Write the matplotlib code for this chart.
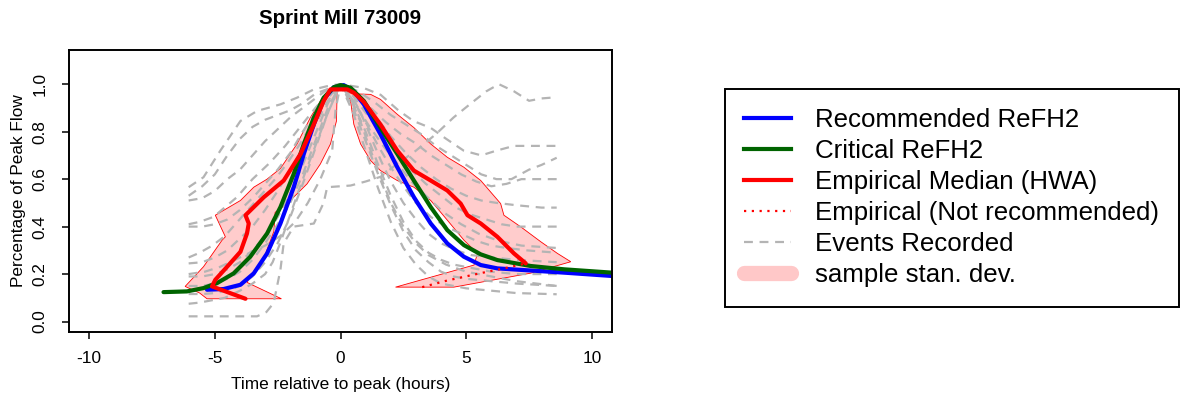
import numpy as np
import matplotlib
matplotlib.use("Agg")
import matplotlib.pyplot as plt
from matplotlib.lines import Line2D

plt.rcParams['font.family'] = ['Liberation Sans', 'DejaVu Sans']

# ---- data (hours from peak, fraction of peak flow) ----
rec_x = [-5.31, -4.65, -3.98, -3.45, -2.92, -2.39, -1.86, -1.46, -1.06, -0.67, -0.27, 0.13,
         0.53, 0.93, 1.59, 2.26, 2.92, 3.59, 4.25, 4.91, 5.58, 6.24, 7.57, 8.9, 10.8]
rec_y = [0.134, 0.137, 0.155, 0.203, 0.287, 0.413, 0.566, 0.706, 0.831, 0.936, 0.987, 0.996,
         0.97, 0.915, 0.789, 0.65, 0.524, 0.413, 0.329, 0.273, 0.238, 0.224, 0.215, 0.206, 0.192]

crit_x = [-7.04, -6.11, -5.45, -4.91, -4.25, -3.59, -2.92, -2.39, -1.86, -1.46, -1.06, -0.67,
          -0.27, 0.0, 0.4, 0.93, 1.59, 2.26, 2.92, 3.59, 4.25, 4.91, 5.58, 6.24, 7.57, 8.9, 10.8]
crit_y = [0.124, 0.127, 0.141, 0.162, 0.203, 0.273, 0.371, 0.482, 0.622, 0.748, 0.859, 0.943,
          0.987, 0.996, 0.985, 0.929, 0.817, 0.706, 0.594, 0.482, 0.385, 0.322, 0.283, 0.259,
          0.234, 0.22, 0.206]

emp_x = [-3.78, -5.11, -4.98, -4.51, -3.98, -3.72, -3.65, -3.78, -3.05, -2.26, -1.59, -1.06,
         -0.67, -0.4, 0.27, 0.53, 0.93, 1.59, 2.26, 2.92, 3.59, 4.25, 4.78, 5.05, 5.58, 6.24,
         6.9, 7.37]
emp_y = [0.096, 0.148, 0.176, 0.231, 0.294, 0.371, 0.413, 0.448, 0.524, 0.594, 0.706, 0.831,
         0.929, 0.978, 0.978, 0.964, 0.925, 0.83, 0.72, 0.636, 0.594, 0.552, 0.497, 0.448,
         0.413, 0.357, 0.287, 0.245]

nrec_x = [3.25, 4.25, 5.58, 6.5, 7.3]
nrec_y = [0.145, 0.173, 0.204, 0.224, 0.243]

# sample standard deviation bands (outline of each shaded area)
band_rise_x = [-6.18, -5.45, -4.71, -4.58, -4.98, -3.98, -3.45, -2.92, -2.39, -1.73, -1.2, -0.8,
               -0.4, -0.13, -0.16, -0.4, -0.8, -1.33, -2.12, -2.6, -2.65, -3.0, -3.5, -3.72,
               -2.35, -5.31, -5.6]
band_rise_y = [0.148, 0.231, 0.343, 0.357, 0.448, 0.51, 0.566, 0.6, 0.645, 0.748, 0.859, 0.929,
               0.971, 0.985, 0.845, 0.748, 0.664, 0.58, 0.497, 0.46, 0.38, 0.28, 0.2, 0.165,
               0.096, 0.096, 0.12]

band_fall_x = [0.2, 0.4, 1.2, 1.59, 2.26, 2.92, 3.59, 4.25, 4.91, 5.58, 6.37, 6.5, 7.17, 7.97,
               8.63, 9.16, 7.57, 4.51, 2.19, 5.31, 5.45, 4.91, 4.25, 3.59, 2.92, 2.26, 1.59,
               1.2, 0.8, 0.53, 0.4]
band_fall_y = [0.985, 0.96, 0.957, 0.936, 0.873, 0.817, 0.748, 0.692, 0.65, 0.594, 0.497, 0.448,
               0.399, 0.336, 0.287, 0.252, 0.204, 0.145, 0.145, 0.238, 0.287, 0.343, 0.427, 0.51,
               0.566, 0.594, 0.636, 0.678, 0.748, 0.831, 0.929]

# recorded events
ev_x = [
    [-6.04, -4.5, -3.32, -2.95, -2.66, -2.39, -2.26, -1.86, -1.06, -0.67, -0.53, 0.4, 1.0, 1.6,
     2.2, 3.0, 3.8, 4.5, 5.2, 5.8, 6.3, 6.9, 7.5, 8.0, 8.6],
    [-6.04, -5.45, -4.78, -3.98, -3.32, -2.39, -1.73, -1.06, -0.4, 0, 0.9, 1.6, 2.3, 2.9, 3.6,
     4.2, 4.9, 5.6, 6.2, 6.9, 7.6, 8.6],
    [-6.04, -5.5, -5.0, -4.5, -4.0, -3.5, -3.0, -2.5, -2.0, -1.5, -1.0, 0, 0.7, 1.4, 2.0, 2.6,
     3.2, 3.8, 4.4, 5.0, 5.6, 6.2, 6.8, 7.5, 8.0, 8.6],
    [-6.04, -5.5, -5, -4.5, -4, -3.5, -3, -2.5, -2, -1.5, -1, -0.5, 0, 0.6, 1.2, 1.8, 2.4, 3.0,
     3.6, 4.2, 4.8, 5.4, 6.0, 6.6, 7.2, 8.0, 8.6],
    [-6.04, -5.6, -5.05, -4.12, -3.5, -2.8, -2.2, -1.6, -1.0, -0.5, 0, 0.5, 1.0, 1.5, 2.0,
     2.6, 3.2, 3.8, 4.4, 5.0, 5.6, 6.2, 7.0, 8.0, 8.6],
    [-6.04, -5.5, -5.0, -4.5, -4.0, -3.5, -3.0, -2.5, -2.0, -1.5, -1.0, -0.5, 0, 0.5, 1.0, 1.6,
     2.2, 2.8, 3.4, 4.0, 4.6, 5.2, 5.8, 6.4, 7.0, 7.8, 8.6],
    [-6.04, -5.6, -5.1, -4.6, -4.1, -3.6, -3.1, -2.6, -2.1, -1.6, -1.1, -0.6, 0, 0.5, 1.0, 1.5,
     2.0, 2.5, 3.0, 3.6, 4.2, 4.8, 5.4, 6.0, 6.6, 7.4, 8.6],
    [-6.04, -5.5, -5.0, -4.5, -4.0, -3.5, -3.0, -2.5, -2.0, -1.5, -1.0, -0.5, 0, 0.4, 0.8, 1.2,
     1.6, 2.0, 2.5, 3.0, 3.5, 4.0, 4.6, 5.2, 6.0, 7.0, 8.6],
    [-6.04, -5.5, -5.0, -4.5, -4.0, -3.5, -3.0, -2.5, -2.0, -1.5, -1.0, -0.5, 0, 0.5, 1.0, 1.5,
     2.0, 2.5, 3.0, 3.5, 4.0, 4.5, 5.0, 6.0, 7.0, 8.6],
    [-6.04, -5.5, -5.0, -4.5, -4.0, -3.5, -3.0, -2.5, -2.0, -1.5, -1.0, -0.5, 0, 0.5, 1.0, 1.5,
     2.0, 2.5, 3.0, 3.5, 4.0, 4.5, 5.0, 6.0, 7.0, 8.6],
    [-6.04, -5.5, -5.0, -4.5, -4.0, -3.5, -3.0, -2.5, -2.0, -1.5, -1.0, -0.5, 0, 0.5, 1.0, 1.5,
     2.0, 2.5, 3.0, 3.5, 4.0, 5.0, 6.0, 7.0, 8.6],
    [-6.04, -5.6, -5.1, -4.6, -4.0, -3.5, -3.0, -2.7, -2.4, -2.0, -1.5, -1.0, -0.5, 0, 0.4, 0.8,
     1.2, 1.6, 2.0, 2.5, 3.0, 3.5, 4.2, 5.0, 6.0, 7.0, 8.6],
    [-6.04, -5.4, -4.8, -4.2, -3.6, -3.0, -2.4, -1.8, -1.3, -0.8, -0.33, -0.2, 0, 0.5, 1.1, 1.7,
     2.3, 2.9, 3.5, 4.1, 4.8, 5.5, 6.3, 7.2, 8.6],
]
ev_y = [
    [0.022, 0.022, 0.022, 0.04, 0.078, 0.218, 0.33, 0.40, 0.413, 0.50, 0.566, 0.573, 0.59,
     0.61, 0.66, 0.72, 0.79, 0.86, 0.92, 0.97, 1.0, 0.97, 0.93, 0.94, 0.945],
    [0.566, 0.608, 0.72, 0.845, 0.887, 0.915, 0.943, 0.978, 0.995, 1.0, 0.985, 0.955, 0.89,
     0.845, 0.815, 0.77, 0.72, 0.70, 0.72, 0.74, 0.74, 0.74],
    [0.53, 0.57, 0.62, 0.70, 0.77, 0.82, 0.85, 0.87, 0.89, 0.92, 0.96, 1.0, 0.97, 0.92, 0.87,
     0.83, 0.79, 0.74, 0.70, 0.66, 0.62, 0.60, 0.60, 0.64, 0.66, 0.69],
    [0.51, 0.52, 0.55, 0.60, 0.64, 0.70, 0.76, 0.81, 0.86, 0.90, 0.94, 0.98, 1.0, 0.96, 0.90,
     0.84, 0.79, 0.75, 0.70, 0.66, 0.62, 0.59, 0.57, 0.58, 0.60, 0.60, 0.60],
    [0.41, 0.42, 0.441, 0.524, 0.60, 0.67, 0.74, 0.82, 0.90, 0.96, 1.0, 0.97, 0.91, 0.85,
     0.78, 0.71, 0.65, 0.60, 0.56, 0.53, 0.51, 0.50, 0.49, 0.48, 0.48],
    [0.40, 0.40, 0.41, 0.43, 0.47, 0.52, 0.58, 0.64, 0.71, 0.80, 0.88, 0.95, 1.0, 0.95, 0.88,
     0.80, 0.72, 0.64, 0.58, 0.53, 0.48, 0.45, 0.43, 0.41, 0.40, 0.40, 0.40],
    [0.27, 0.29, 0.32, 0.36, 0.42, 0.48, 0.54, 0.60, 0.67, 0.75, 0.84, 0.93, 1.0, 0.93, 0.84,
     0.74, 0.65, 0.57, 0.50, 0.44, 0.40, 0.37, 0.34, 0.32, 0.31, 0.30, 0.29],
    [0.245, 0.25, 0.27, 0.30, 0.35, 0.40, 0.47, 0.55, 0.64, 0.73, 0.83, 0.93, 1.0, 0.96, 0.88,
     0.78, 0.68, 0.59, 0.50, 0.43, 0.37, 0.33, 0.30, 0.28, 0.27, 0.26, 0.25],
    [0.19, 0.19, 0.20, 0.22, 0.25, 0.30, 0.36, 0.44, 0.54, 0.66, 0.79, 0.92, 1.0, 0.92, 0.80,
     0.66, 0.53, 0.42, 0.34, 0.29, 0.26, 0.24, 0.23, 0.21, 0.20, 0.20],
    [0.15, 0.15, 0.16, 0.18, 0.21, 0.26, 0.33, 0.41, 0.50, 0.62, 0.76, 0.90, 1.0, 0.90, 0.76,
     0.62, 0.49, 0.38, 0.30, 0.25, 0.21, 0.19, 0.18, 0.17, 0.16, 0.15],
    [0.116, 0.116, 0.12, 0.13, 0.15, 0.19, 0.25, 0.33, 0.44, 0.58, 0.73, 0.88, 1.0, 0.88, 0.72,
     0.56, 0.42, 0.31, 0.24, 0.19, 0.16, 0.14, 0.13, 0.12, 0.115],
    [0.075, 0.08, 0.09, 0.10, 0.13, 0.16, 0.20, 0.25, 0.33, 0.45, 0.60, 0.74, 0.88, 1.0, 0.94,
     0.84, 0.72, 0.61, 0.50, 0.40, 0.33, 0.28, 0.24, 0.21, 0.19, 0.17, 0.15],
    [0.20, 0.21, 0.23, 0.26, 0.29, 0.32, 0.36, 0.42, 0.50, 0.60, 0.72, 0.89, 1.0, 0.93, 0.83,
     0.74, 0.66, 0.58, 0.52, 0.46, 0.41, 0.37, 0.34, 0.32, 0.31],
]

title = "Sprint Mill 73009"
x_ticks = [-10, -5, 0, 5, 10]
y_ticks = [0.0, 0.2, 0.4, 0.6, 0.8, 1.0]
legend_labels = ["Recommended ReFH2", "Critical ReFH2", "Empirical Median (HWA)",
                 "Empirical (Not recommended)", "Events Recorded", "sample stan. dev."]

# ---- figure ----
W, H = 1180, 396
fig = plt.figure(figsize=(W / 100, H / 100), dpi=100)
ax = fig.add_axes([69 / W, 1 - 332 / H, (612 - 69) / W, (332 - 50) / H])

GREY = '#B4B4B4'
for xs, ys in zip(ev_x, ev_y):
    ax.plot(xs, ys, color=GREY, lw=1.6, linestyle=(0, (4, 3)))

ax.fill(band_rise_x, band_rise_y, facecolor=(1, 0, 0, 0.2), edgecolor='red', lw=0.6)
ax.fill(band_fall_x, band_fall_y, facecolor=(1, 0, 0, 0.2), edgecolor='red', lw=0.6)

ax.plot(rec_x, rec_y, color='blue', lw=3, solid_capstyle='round')
ax.plot(crit_x, crit_y, color='#006400', lw=3, solid_capstyle='round')
ax.plot(emp_x, emp_y, color='red', lw=3, solid_capstyle='round', solid_joinstyle='round')
ax.plot(nrec_x, nrec_y, color='red', lw=1.6, linestyle=(0, (1, 2.5)))

ax.set_xlim(-10.8, 10.8)
ax.set_ylim(-0.044, 1.144)
ax.set_xticks(x_ticks)
ax.set_xticklabels([str(t) for t in x_ticks])
ax.set_yticks(y_ticks)
ax.set_yticklabels(["%.1f" % t for t in y_ticks], rotation=90, va='center')
ax.tick_params(direction='out', length=5, width=1.1, labelsize=12.4)
ax.tick_params(axis='x', pad=9)
ax.tick_params(axis='y', pad=10.5)
for s in ax.spines.values():
    s.set_linewidth(1.4)

fig.text(340.5 / W, 1 - 18 / H, title, ha='center', va='center', fontsize=14.8,
         fontweight='bold')
fig.text(340.5 / W, 1 - 384 / H, "Time relative to peak (hours)", ha='center', va='center',
         fontsize=12.4)
fig.text(19 / W, 1 - 191 / H, "Percentage of Peak Flow", ha='center', va='center',
         fontsize=12.4, rotation=90)

handles = [
    Line2D([], [], color='blue', lw=3),
    Line2D([], [], color='#006400', lw=3),
    Line2D([], [], color='red', lw=3),
    Line2D([], [], color='red', lw=1.6, linestyle=(0, (1, 2.5))),
    Line2D([], [], color=GREY, lw=1.6, linestyle=(0, (4, 3))),
    Line2D([], [], color='#FFC8C8', lw=11, solid_capstyle='round'),
]
leg = fig.legend(handles, legend_labels, loc='upper left',
                 bbox_to_anchor=(725 / W, 1 - 89 / H), borderaxespad=0,
                 fontsize=18.6, handlelength=1.8, handletextpad=0.95,
                 labelspacing=0.27, borderpad=0.75, fancybox=False, framealpha=1)
leg.get_frame().set_edgecolor('black')
leg.get_frame().set_linewidth(1.4)

fig.savefig("out.png", dpi=100)
